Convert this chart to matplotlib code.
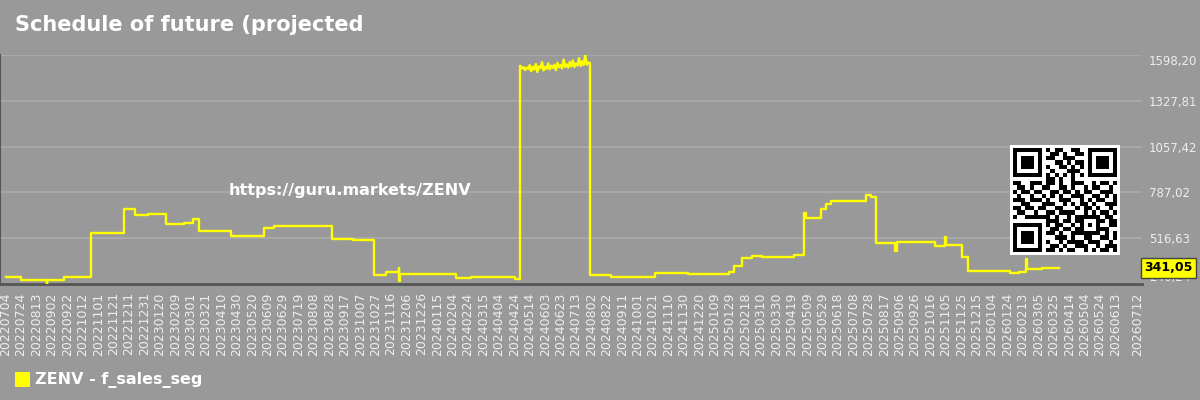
import numpy as np
import pandas as pd
import matplotlib
matplotlib.use('Agg')
import matplotlib.pyplot as plt
from matplotlib.patches import Rectangle
from matplotlib.transforms import blended_transform_factory

# ---- data: change points of f_sales_seg (step series) ----
step_dates = ['2022-07-04', '2022-07-24', '2022-08-26', '2022-08-27', '2022-09-18',
              '2022-10-23', '2022-12-04', '2022-12-19', '2023-01-05', '2023-01-28',
              '2023-02-20', '2023-03-04', '2023-03-12', '2023-04-22', '2023-06-04',
              '2023-06-17', '2023-09-01', '2023-09-28', '2023-10-25', '2023-11-09',
              '2023-11-26', '2023-11-27', '2023-11-28', '2024-02-08', '2024-02-28',
              '2024-04-25']
step_values = [286, 271, 246.24, 270, 288,
               549, 691, 656, 660, 600,
               606, 628, 559, 530, 576,
               589, 512, 504, 298, 317,
               340, 265, 303, 282, 288,
               276]

# noisy plateau, one value every 2 days from 2024-05-02
plateau_start = '2024-05-02'
plateau_values = [1532, 1518, 1527, 1509, 1524, 1515, 1538, 1503, 1529, 1512,
                  1545, 1498, 1531, 1520, 1556, 1507, 1528, 1517, 1549, 1513,
                  1535, 1522, 1541, 1509, 1552, 1526, 1538, 1519, 1571, 1528,
                  1543, 1524, 1557, 1531, 1566, 1527, 1548, 1536, 1579, 1533,
                  1561, 1539, 1598.20, 1541, 1553]

late_dates = ['2024-07-31', '2024-08-27', '2024-10-24', '2024-12-05', '2025-01-28',
              '2025-02-03', '2025-02-14', '2025-02-26', '2025-03-11', '2025-04-22',
              '2025-05-05', '2025-05-07', '2025-05-27', '2025-06-02', '2025-06-09',
              '2025-07-25', '2025-07-31', '2025-08-06', '2025-08-31', '2025-09-02',
              '2025-10-22', '2025-11-04', '2025-11-05', '2025-11-26', '2025-12-04',
              '2026-01-27', '2026-02-08', '2026-02-17', '2026-02-18', '2026-03-10',
              '2026-04-01']
late_values = [301, 288, 313, 305, 317,
               354, 400, 413, 404, 416,
               667, 634, 687, 719, 736,
               771, 760, 486, 443, 496,
               471, 525, 475, 407, 325,
               309, 319, 392, 335, 338,
               341.05]

last_value = 341.05
ticker = 'ZENV'
series_name = 'ZENV - f_sales_seg'

qr_rows = [
    "1111111010110011001111111",
    "1000001001101001101000001",
    "1011101011001110001011101",
    "1011101000110101101011101",
    "1011101010011010101011101",
    "1000001001000111001000001",
    "1111111010101010101111111",
    "0000000011010010000000000",
    "1100111011010011100101101",
    "0110100110011010010110010",
    "1011011001101101011001110",
    "0100100101010011100110101",
    "1110111010011100101011001",
    "0011000111001010110100111",
    "1101101100110001011010010",
    "0110010011011110010101101",
    "1001111110100101111110110",
    "0000000011101101100011011",
    "1111111010110010101010011",
    "1000001001101101100011100",
    "1011101011010011111110101",
    "1011101000111010011001101",
    "1011101010010111101110010",
    "1000001001101001110010111",
    "1111111011010110010101101",
]

# ---- build series pieces ----
pl_dates = list(pd.date_range(plateau_start, periods=len(plateau_values), freq='2D'))
xa = list(pd.to_datetime(step_dates)) + [pl_dates[0]]
ya = step_values + [plateau_values[0]]
xc = [pl_dates[-1]] + list(pd.to_datetime(late_dates))
yc = [plateau_values[-1]] + late_values
all_y = step_values + plateau_values + late_values

bg = '#999999'
yellow = '#ffff00'
fig = plt.figure(figsize=(12, 4), dpi=100, facecolor=bg)
ax = fig.add_axes([0.0, 0.29, 0.9517, 0.5725], facecolor=bg)

ax.plot(xa, ya, color=yellow, lw=1.7, drawstyle='steps-post', zorder=3)
ax.plot(pl_dates, plateau_values, color=yellow, lw=1.7, zorder=3)
ax.plot(xc, yc, color=yellow, lw=1.7, drawstyle='steps-post', zorder=3)

ymin, ymax = min(all_y), max(all_y)
ax.set_ylim(ymin, ymax)
yt = np.linspace(ymin, ymax, 6)
ax.set_yticks(yt)
ax.set_yticklabels([('%.2f' % v).replace('.', ',') for v in yt])
ax.yaxis.tick_right()
ax.tick_params(axis='y', length=0, pad=5, labelsize=8.5, labelcolor='#eeeeee')
labs = ax.get_yticklabels()
labs[0].set_va('bottom')
labs[-1].set_va('top')
ax.grid(axis='y', color='#a8a8a8', lw=1.5)
ax.grid(axis='x', visible=False)

t0 = pd.Timestamp('2022-07-04')
xt = list(pd.date_range('2022-07-04', '2026-06-13', freq='20D')) + [pd.Timestamp('2026-07-12')]
ax.set_xticks(xt)
ax.set_xticklabels([d.strftime('%Y%m%d') for d in xt], rotation=90)
ax.tick_params(axis='x', length=0, pad=6, labelsize=9, labelcolor='#eeeeee')
ax.set_xlim(t0 - pd.Timedelta(days=7.4), t0 + pd.Timedelta(days=1474.6))

for s in ['top', 'right']:
    ax.spines[s].set_visible(False)
ax.spines['bottom'].set_color('#555555')
ax.spines['bottom'].set_linewidth(2)
ax.spines['left'].set_color('#555555')
ax.spines['left'].set_linewidth(1.5)

# current value tag
tr = blended_transform_factory(ax.transAxes, ax.transData)
ax.text(1.002, last_value, ('%.2f' % last_value).replace('.', ','), transform=tr,
        ha='left', va='center', fontsize=9, fontweight='bold', color='black',
        bbox=dict(boxstyle='square,pad=0.25', fc=yellow, ec='#444444', lw=1),
        zorder=5, clip_on=False)

# title, watermark, legend
fig.text(15 / 1200, 1 - 25 / 400, 'Schedule of future (projected', fontsize=15,
         fontweight='bold', color='white', ha='left', va='center')
fig.text(350 / 1200, 1 - 190 / 400, 'https://guru.markets/' + ticker, fontsize=11.5,
         fontweight='bold', color='white', ha='center', va='center')
fig.patches.append(Rectangle((15 / 1200, 1 - 387 / 400), 15 / 1200, 15 / 400,
                             transform=fig.transFigure, fc=yellow, ec='none'))
fig.text(35 / 1200, 1 - 380 / 400, series_name, fontsize=11.5, fontweight='bold',
         color='white', ha='left', va='center')

# QR code
qr = np.array([[int(c) for c in r] for r in qr_rows])
qax = fig.add_axes([1010 / 1200, 1 - 255 / 400, 110 / 1200, 110 / 400], facecolor='white')
qax.imshow(1 - qr, cmap='gray', vmin=0, vmax=1, interpolation='nearest',
           extent=(0, 25, 25, 0))
qax.set_xlim(-0.8, 25.8)
qax.set_ylim(25.8, -0.8)
qax.set_xticks([])
qax.set_yticks([])
for s in qax.spines.values():
    s.set_visible(False)

fig.savefig('out.png', dpi=100, facecolor=bg)
